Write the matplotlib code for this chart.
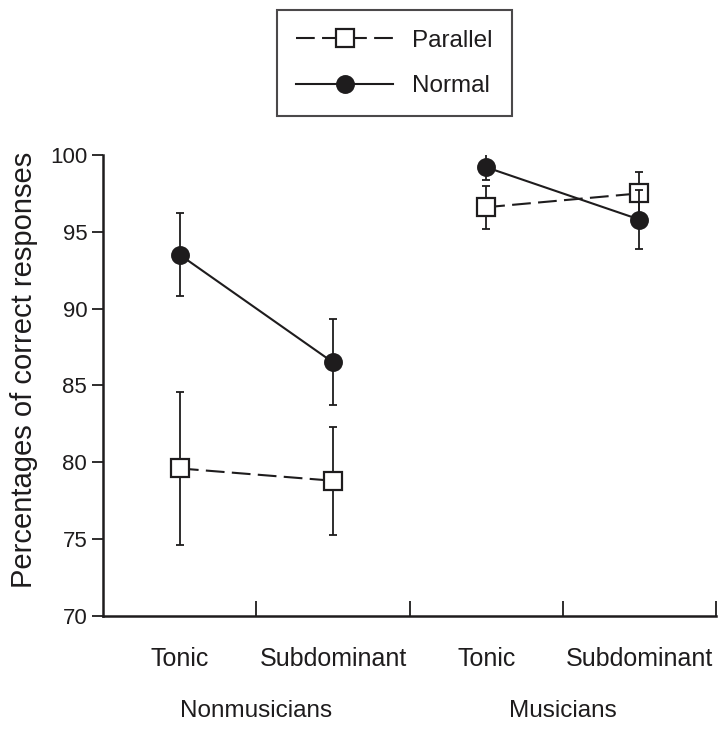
import matplotlib.pyplot as plt
from matplotlib.ticker import FixedLocator, NullFormatter

plt.rcParams['font.family'] = ['Liberation Sans', 'DejaVu Sans']

# conditions along the x axis
CONDITIONS = ['Tonic', 'Subdominant', 'Tonic', 'Subdominant']
GROUPS = ['Nonmusicians', 'Musicians']

# mean percentages of correct responses and error bars
PARALLEL_MEAN = [79.6, 78.8, 96.6, 97.5]
PARALLEL_ERR = [5.0, 3.5, 1.4, 1.4]
NORMAL_MEAN = [93.5, 86.5, 99.2, 95.8]
NORMAL_ERR = [2.7, 2.8, 0.85, 1.9]

INK = '#1e1c1d'


def plot_series(ax, means, errs, *, label, linestyle, marker, facecolor, ms, z):
    xs = [i + 0.5 for i in range(len(means))]
    ax.errorbar(xs, means, yerr=errs, fmt='none', ecolor=INK, elinewidth=1.3,
                capsize=3.2, capthick=1.3, zorder=z)
    handle = None
    # lines only connect the two conditions inside a group
    for g in range(0, len(means), 2):
        line, = ax.plot(xs[g:g + 2], means[g:g + 2], color=INK, lw=1.5,
                        linestyle=linestyle, marker=marker, ms=ms,
                        markerfacecolor=facecolor, markeredgecolor=INK,
                        markeredgewidth=1.6, zorder=z + 0.5)
        if handle is None:
            handle = line
    handle.set_label(label)
    return handle


def main() -> None:
    fig = plt.figure(figsize=(7.19, 7.32), dpi=100)
    ax = fig.add_axes([0.1437, 0.1585, 0.852, 0.6298])

    h_par = plot_series(ax, PARALLEL_MEAN, PARALLEL_ERR, label='Parallel',
                        linestyle=(0, (9, 3.5)), marker='s', facecolor='white', ms=12.8, z=3)
    h_nor = plot_series(ax, NORMAL_MEAN, NORMAL_ERR, label='Normal',
                        linestyle='-', marker='o', facecolor=INK, ms=12, z=5)

    ax.set_xlim(0, len(CONDITIONS))
    ax.set_ylim(70, 100)
    ax.set_yticks([70, 75, 80, 85, 90, 95, 100])
    ax.tick_params(axis='y', direction='out', length=8, width=1.3, labelsize=16,
                   pad=3.6, colors=INK)

    ax.xaxis.set_major_locator(FixedLocator([1, 2, 3, 4]))
    ax.xaxis.set_major_formatter(NullFormatter())
    ax.xaxis.set_minor_locator(FixedLocator([i + 0.5 for i in range(len(CONDITIONS))]))
    ax.set_xticklabels(CONDITIONS, minor=True)
    ax.tick_params(axis='x', which='major', direction='in', length=11, width=1.3, colors=INK)
    ax.tick_params(axis='x', which='minor', length=0, pad=22, labelsize=18, labelcolor=INK)

    for i, group in enumerate(GROUPS):
        ax.text(2 * i + 1, -0.219, group, transform=ax.get_xaxis_transform(),
                ha='center', va='baseline', fontsize=17.5, color=INK)

    ax.set_ylabel('Percentages of correct responses', fontsize=21, color=INK)
    ax.yaxis.set_label_coords(-0.1066, 0.534)

    ax.spines['top'].set_visible(False)
    ax.spines['right'].set_visible(False)
    for side in ('left', 'bottom'):
        ax.spines[side].set_linewidth(1.8)
        ax.spines[side].set_color(INK)

    leg = fig.legend([h_par, h_nor], ['Parallel', 'Normal'], loc='center',
                     bbox_to_anchor=(0.5487, 0.9133), fontsize=17.5, frameon=True,
                     fancybox=False, edgecolor=INK, numpoints=1, handlelength=4.0,
                     handletextpad=0.78, labelspacing=0.95, borderpad=0.8)
    leg.get_frame().set_linewidth(1.5)
    for t in leg.get_texts():
        t.set_color(INK)

    fig.savefig('out.png', dpi=100)


if __name__ == '__main__':
    main()
